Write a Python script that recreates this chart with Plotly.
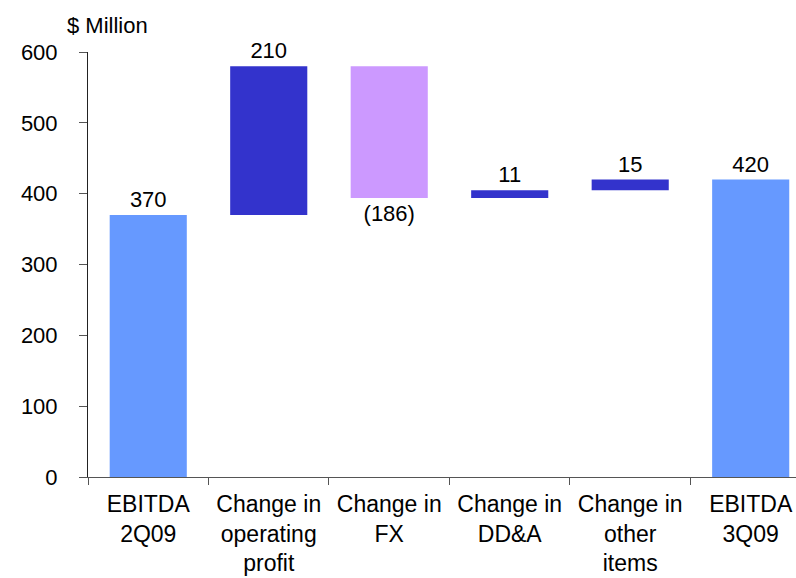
import plotly.graph_objects as go

categories = ["EBITDA<br>2Q09", "Change in<br>operating<br>profit", "Change in<br>FX",
              "Change in<br>DD&A", "Change in<br>other<br>items", "EBITDA<br>3Q09"]
measures = ["absolute", "relative", "relative", "relative", "relative", "total"]
values = [370, 210, -186, 11, 15, 0]
labels = ["370", "210", "(186)", "11", "15", "420"]
y_ticks = [0, 100, 200, 300, 400, 500, 600]

FONT = "Liberation Sans, Arial, sans-serif"

fig = go.Figure(go.Waterfall(
    x=categories,
    y=values,
    measure=measures,
    text=labels,
    textposition="outside",
    textfont=dict(family=FONT, size=22, color="black"),
    increasing=dict(marker=dict(color="#3333CC")),
    decreasing=dict(marker=dict(color="#CC99FF")),
    totals=dict(marker=dict(color="#6699FF")),
    connector=dict(visible=False),
    cliponaxis=False,
    hoverinfo="skip",
))

fig.update_layout(
    width=796, height=578,
    margin=dict(l=88, r=0, t=52, b=101),
    paper_bgcolor="white", plot_bgcolor="white",
    showlegend=False,
    waterfallgap=0.36,
    font=dict(family=FONT, size=22, color="black"),
    xaxis=dict(
        type="category",
        range=[-0.5, 5.376],
        automargin=False,
        showline=True, linecolor="#555555", linewidth=1,
        ticks="outside", tickson="boundaries", ticklen=7, tickcolor="#555555",
        showgrid=False, zeroline=False,
        tickfont=dict(family=FONT, size=23, color="black"),
        ticklabelstandoff=6,
    ),
    yaxis=dict(
        range=[0, 600],
        tickvals=y_ticks,
        automargin=False,
        showline=True, linecolor="#222222", linewidth=1,
        ticks="outside", ticklen=8, tickcolor="#555555",
        showgrid=False, zeroline=False,
        tickfont=dict(family=FONT, size=22, color="black"),
        ticklabelstandoff=17,
    ),
    annotations=[dict(
        text="$ Million", xref="paper", yref="paper",
        x=-0.032, y=1.0635, xanchor="left", yanchor="middle",
        showarrow=False, font=dict(family=FONT, size=22, color="black"),
    )],
)

fig.write_html(
    "out.html",
    config={"displayModeBar": False},
    post_script="document.body.style.margin='0';document.body.style.overflow='hidden';",
)
